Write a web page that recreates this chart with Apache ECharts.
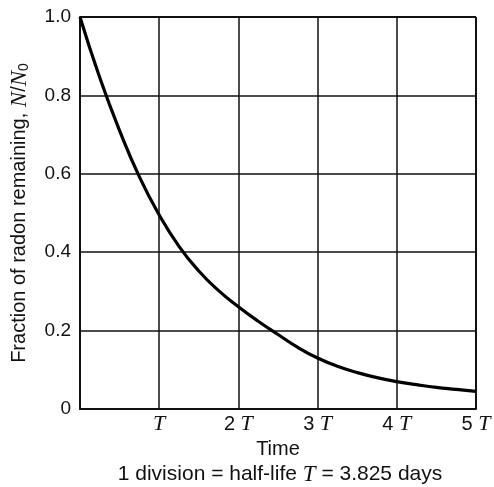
<!DOCTYPE html>
<html>
<head>
<meta charset="utf-8">
<script src="https://cdn.jsdelivr.net/npm/echarts@6/dist/echarts.min.js"></script>
<style>
html,body{margin:0;padding:0;background:#fff;}
#c{width:494px;height:487px;}
</style>
</head>
<body>
<div id="c"></div>
<script>
// time in half-lives (T), fraction remaining N/N0
const timeT = [0, 0.25, 0.5, 0.75, 1.0, 1.25, 1.5, 1.75, 2.0, 2.25, 2.5, 2.75, 3.0, 3.25, 3.5, 3.75, 4.0, 4.25, 4.5, 4.75, 5.0];
const fraction = [1.0, 0.845, 0.71, 0.592, 0.495, 0.415, 0.352, 0.302, 0.261, 0.224, 0.19, 0.157, 0.13, 0.109, 0.093, 0.08, 0.07, 0.062, 0.055, 0.05, 0.045];
const xTickLabels = ['', 'T', '2 T', '3 T', '4 T', '5 T'];
const yTickLabels = ['0', '0.2', '0.4', '0.6', '0.8', '1.0'];

const chart = echarts.init(document.getElementById('c'), null, {renderer: 'canvas'});
const sans = 'Liberation Sans, Arial, sans-serif';
const serif = 'Liberation Serif, DejaVu Serif, serif';

function xLabel(v) {
  const s = xTickLabels[Math.round(v)] || '';
  if (!s) return '';
  const parts = s.split(' ');
  if (parts.length === 1) return '{t|T}';
  return '{n|' + parts[0] + ' }{t|T}';
}

chart.setOption({
  animation: false,
  backgroundColor: '#fff',
  grid: {left: 74, right: 18, top: 17, bottom: 78, show: false},
  title: {
    text: '{a|1 division = half-life }{t|T}{a| = 3.825 days}',
    left: 275, top: 458, textAlign: 'center',
    textStyle: {
      fontWeight: 'normal',
      rich: {
        a: {fontFamily: sans, fontSize: 21, fontWeight: 'normal', color: '#111'},
        t: {fontFamily: serif, fontStyle: 'italic', fontSize: 23, fontWeight: 'normal', color: '#111'}
      }
    }
  },
  xAxis: {
    type: 'value', min: 0, max: 5, interval: 1,
    name: 'Time', nameLocation: 'middle', nameGap: 28,
    nameTextStyle: {fontFamily: sans, fontSize: 20, color: '#111'},
    axisLine: {show: true, onZero: false, lineStyle: {color: '#111', width: 2}},
    axisTick: {show: false},
    splitLine: {show: true, lineStyle: {color: '#111', width: 1.5}},
    axisLabel: {
      margin: 4,
      formatter: xLabel,
      rich: {
        n: {fontFamily: sans, fontSize: 20, color: '#111'},
        t: {fontFamily: serif, fontStyle: 'italic', fontSize: 22, color: '#111'}
      }
    }
  },
  yAxis: {
    type: 'value', min: 0, max: 1, interval: 0.2,
    name: '{a|Fraction of radon remaining, }{n|N}{a|/}{n|N}{s|0}',
    nameLocation: 'middle', nameGap: 49, nameRotate: 90,
    nameTextStyle: {
      rich: {
        a: {fontFamily: sans, fontSize: 20, color: '#111'},
        n: {fontFamily: serif, fontStyle: 'italic', fontSize: 23, color: '#111'},
        s: {fontFamily: sans, fontSize: 14, color: '#111', verticalAlign: 'bottom', padding: [9, 0, 0, 0]}
      }
    },
    axisLine: {show: true, lineStyle: {color: '#111', width: 2}},
    axisTick: {show: false},
    splitLine: {show: true, lineStyle: {color: '#111', width: 1.5}},
    axisLabel: {
      margin: 9,
      fontFamily: sans, fontSize: 19, color: '#111',
      formatter: function (v) { return yTickLabels[Math.round(v * 5)]; }
    }
  },
  series: [{
    type: 'line',
    data: timeT.map((t, i) => [t, fraction[i]]),
    smooth: 0.5,
    showSymbol: false,
    lineStyle: {color: '#000', width: 3.2},
    z: 5
  }, {
    type: 'line',
    data: [[0, 1], [5, 1]],
    showSymbol: false,
    lineStyle: {color: '#111', width: 2},
    silent: true
  }, {
    type: 'line',
    data: [[5, 0], [5, 1]],
    showSymbol: false,
    lineStyle: {color: '#111', width: 2},
    silent: true
  }]
});
</script>
</body>
</html>
